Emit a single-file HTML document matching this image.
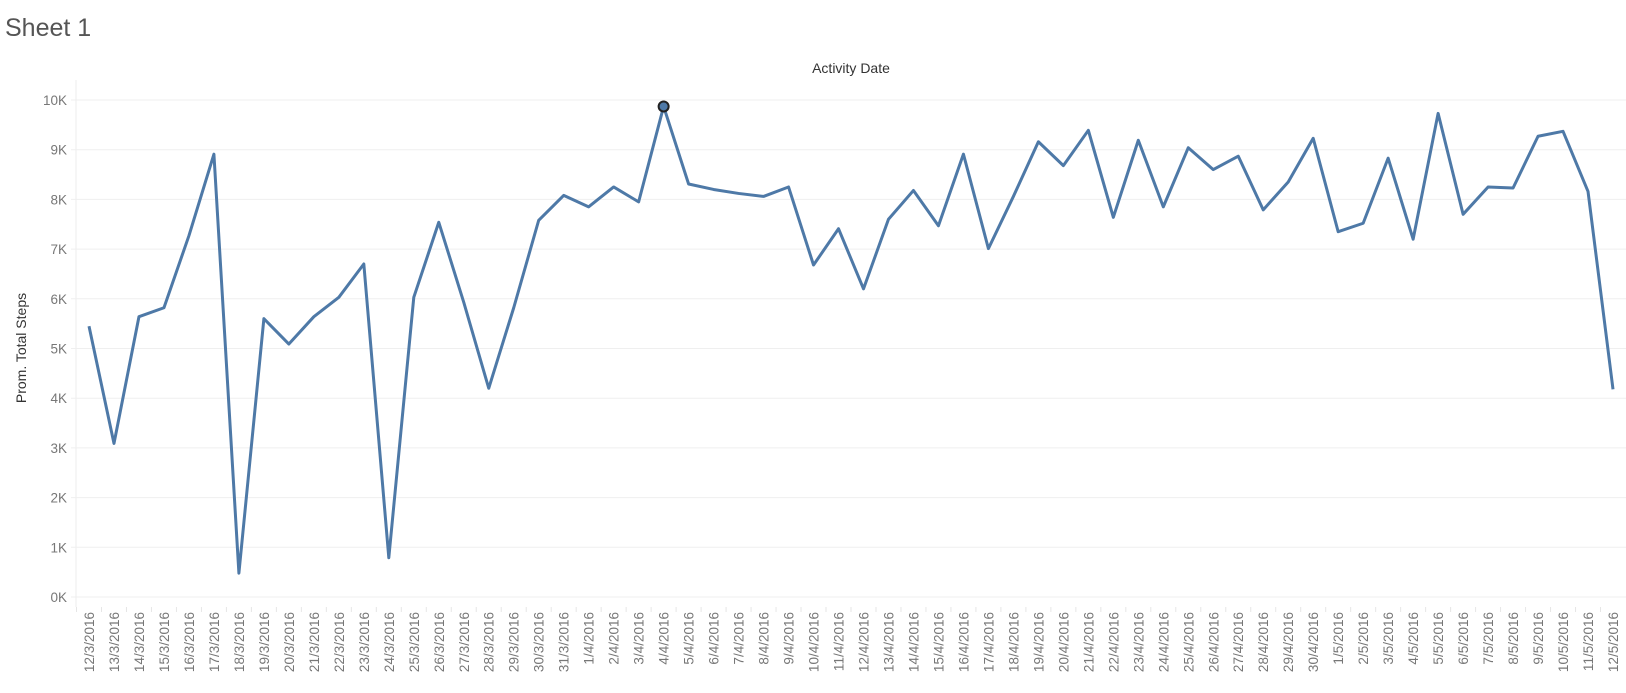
<!DOCTYPE html>
<html><head><meta charset="utf-8"><style>
body{margin:0;background:#fff;font-family:"Liberation Sans",sans-serif;}
svg text{font-family:"Liberation Sans",sans-serif;}
</style></head><body>
<svg id="chart" width="1626" height="688">
<text x="5" y="36" font-size="25" fill="#555">Sheet 1</text>
<text x="851" y="73" font-size="14" fill="#333" text-anchor="middle">Activity Date</text>
<text transform="translate(26,348) rotate(-90)" font-size="14" fill="#333" text-anchor="middle">Prom. Total Steps</text>
<line x1="76" x2="76" y1="80" y2="607" stroke="#ececec"/>
<g id="grid"></g><g id="xlabels"></g><g id="series"></g>
</svg>
<script>
const dates=[];
for(let d=12;d<=31;d++)dates.push(d+"/3/2016");
for(let d=1;d<=30;d++)dates.push(d+"/4/2016");
for(let d=1;d<=12;d++)dates.push(d+"/5/2016");
const steps=[5450,3090,5640,5820,7270,8910,480,5600,5090,5640,6030,6700,790,6030,7540,5930,4200,5820,7580,8080,7850,8250,7950,9870,8310,8200,8120,8060,8250,6680,7410,6200,7600,8180,7470,8910,7010,8060,9160,8680,9390,7640,9190,7850,9040,8600,8870,7790,8350,9230,7350,7520,8830,7200,9730,7700,8250,8230,9270,9370,8160,4180];
const yTicks=[0,1000,2000,3000,4000,5000,6000,7000,8000,9000,10000];
const yTickLabels=["0K","1K","2K","3K","4K","5K","6K","7K","8K","9K","10K"];
const NS="http://www.w3.org/2000/svg";
const x0=89,x1=1613,y0=597,y1=100;
const xs=i=>x0+(x1-x0)*i/(dates.length-1);
const ys=v=>y0-(y0-y1)*v/10000;
function mk(t,a,p){const e=document.createElementNS(NS,t);for(const k in a)e.setAttribute(k,a[k]);p.appendChild(e);return e;}
const grid=document.getElementById('grid');
yTicks.forEach((v,i)=>{
 const l=mk('line',{x1:71,x2:1626,y1:ys(v),y2:ys(v),stroke:'#efefef','stroke-width':1},grid);
 
 
 const t=mk('text',{x:67,y:ys(v)+5,'font-size':13.5,fill:'#777','text-anchor':'end'},grid);
 t.textContent=yTickLabels[i];
 
 
});
const xl=document.getElementById('xlabels');
const step=(x1-x0)/(dates.length-1);
dates.forEach((d,i)=>{
 const tk=mk('line',{x1:xs(i)-step/2,x2:xs(i)-step/2,y1:607,y2:612,stroke:'#e6e6e6'},xl);
 
 
 const t=mk('text',{transform:`translate(${xs(i)+5},612) rotate(-90)`,'font-size':13.5,fill:'#777','text-anchor':'end'},xl);
 t.textContent=d;
 
 
});
const s=document.getElementById('series');
const p=mk('polyline',{points:steps.map((v,i)=>xs(i)+','+ys(v)).join(' '),fill:'none',stroke:'#4e79a7','stroke-width':3,'stroke-linejoin':'round'},s);


let mi=steps.indexOf(Math.max(...steps));
const c=mk('circle',{cx:xs(mi),cy:ys(steps[mi]),r:5,fill:'#4e79a7',stroke:'#222','stroke-width':2},s);


</script>
</body></html>
